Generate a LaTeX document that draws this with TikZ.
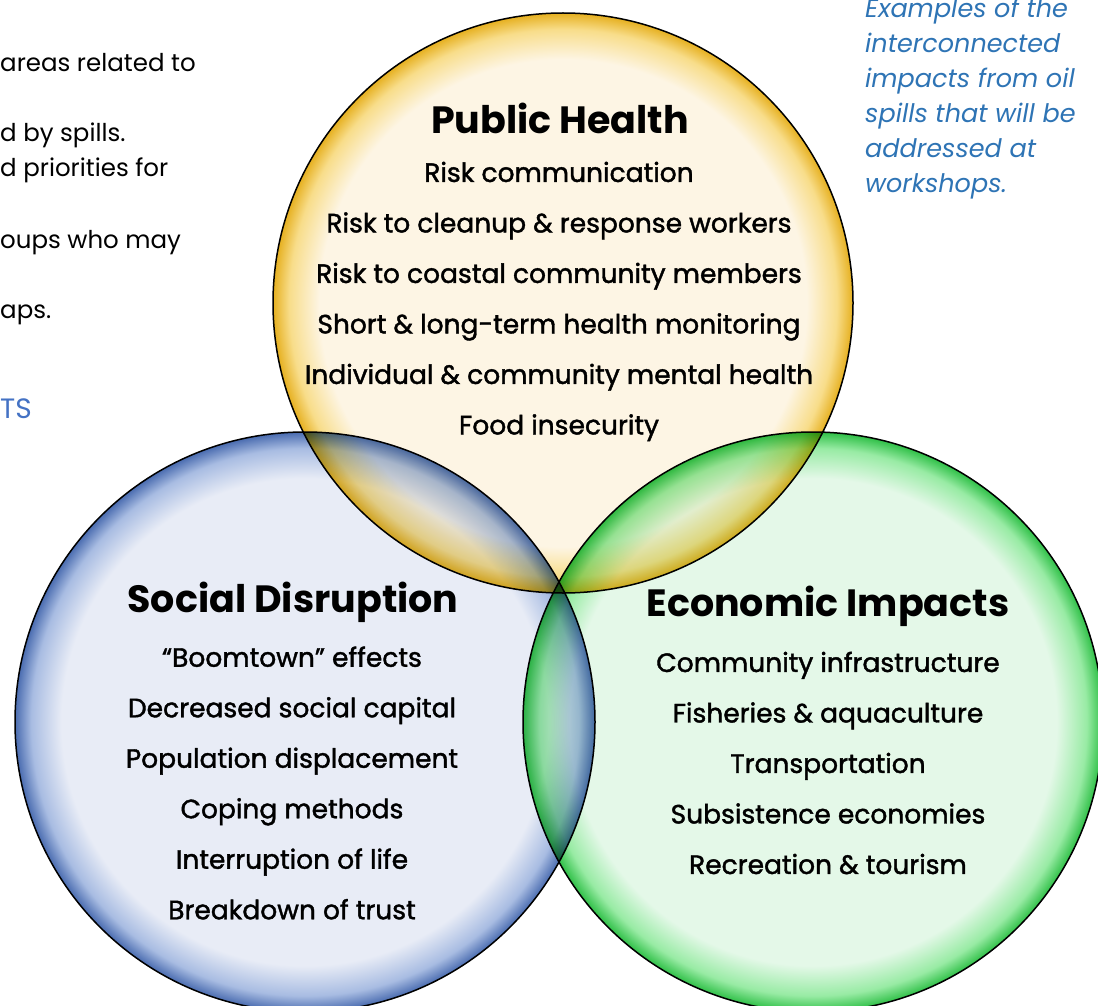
\documentclass[tikz,border=0pt]{standalone}
\usepackage{fontspec}
\setmainfont{Poppins}
\newfontfamily\medfont{Poppins}[FakeBold=1.5]
\definecolor{ylwin}{HTML}{FDF5E4}
\definecolor{ylwmid}{HTML}{F8DD8A}
\definecolor{ylwrim}{HTML}{E6B020}
\definecolor{bluin}{HTML}{E8ECF6}
\definecolor{blumid}{HTML}{A8BCE2}
\definecolor{blurim}{HTML}{4A6CB0}
\definecolor{grnin}{HTML}{E4F8E8}
\definecolor{grnmid}{HTML}{98EBA4}
\definecolor{grnrim}{HTML}{30C048}
\definecolor{notecol}{HTML}{2E74B5}
\definecolor{headcol}{HTML}{4472C4}
\pgfdeclareradialshading{ylwshade}{\pgfpoint{0bp}{0bp}}{color(0bp)=(ylwin); color(21bp)=(ylwin); color(23.6bp)=(ylwmid); color(25bp)=(ylwrim); color(50bp)=(ylwrim)}
\pgfdeclareradialshading{blushade}{\pgfpoint{0bp}{0bp}}{color(0bp)=(bluin); color(21bp)=(bluin); color(23.6bp)=(blumid); color(25bp)=(blurim); color(50bp)=(blurim)}
\pgfdeclareradialshading{grnshade}{\pgfpoint{0bp}{0bp}}{color(0bp)=(grnin); color(21bp)=(grnin); color(23.6bp)=(grnmid); color(25bp)=(grnrim); color(50bp)=(grnrim)}
\tikzset{
  ttl/.style={font=\bfseries\fontsize{38}{44}\selectfont, inner sep=0pt},
  itm/.style={font=\medfont\fontsize{26.5}{50.5}\selectfont, align=center, inner sep=0pt},
  lefttxt/.style={font=\fontsize{24.5}{28}\selectfont, anchor=base west, inner sep=0pt},
  rim/.style={draw=black, line width=1.5pt}
}
\begin{document}
\begin{tikzpicture}[x=1pt,y=-1pt]
\useasboundingbox (0,0) rectangle (1098,1006);
\fill[white] (0,0) rectangle (1098,1006);
% circles
\path[shading=ylwshade, blend mode=multiply] (563,303) circle[radius=290pt];
\path[shading=blushade, blend mode=multiply] (305,722) circle[radius=290pt];
\path[shading=grnshade, blend mode=multiply] (813,722) circle[radius=290pt];
\draw[rim] (563,303) circle[radius=290pt];
\draw[rim] (305,722) circle[radius=290pt];
\draw[rim] (813,722) circle[radius=290pt];
% public health
\node[ttl] (pht) at (560,118) {Public Health};
\node[itm] (phi) at (559,301.5) {Risk communication\\Risk to cleanup \& response workers\\Risk to coastal community members\\Short \& long-term health monitoring\\Individual \& community mental health\\Food insecurity};
% social disruption
\node[ttl] (sdt) at (293,602) {Social Disruption};
\node[itm] (sdi) at (292,783) {“Boomtown” effects\\Decreased social capital\\Population displacement\\Coping methods\\Interruption of life\\Breakdown of trust};
% economic impacts
\node[ttl] (eit) at (828,606) {Economic Impacts};
\node[itm] (eii) at (828,763) {Community infrastructure\\Fisheries \& aquaculture\\Transportation\\Subsistence economies\\Recreation \& tourism};
% left partial text
\node[lefttxt] (l1) at (0,72) {areas related to};
\node[lefttxt] (l2) at (0,142) {d by spills.};
\node[lefttxt] (l3) at (0,177) {d priorities for};
\node[lefttxt] (l4) at (0,248) {oups who may};
\node[lefttxt] (l5) at (0,318) {aps.};
\node[lefttxt, text=headcol, font=\fontsize{28}{32}\selectfont] (l6) at (0,418) {TS};
% note
\node[anchor=north west, inner sep=0pt, align=left, text=notecol, font=\itshape\fontsize{25.5}{35}\selectfont] (note) at (865,-2) {Examples of the\\interconnected\\impacts from oil\\spills that will be\\addressed at\\workshops.};
\end{tikzpicture}
\end{document}
